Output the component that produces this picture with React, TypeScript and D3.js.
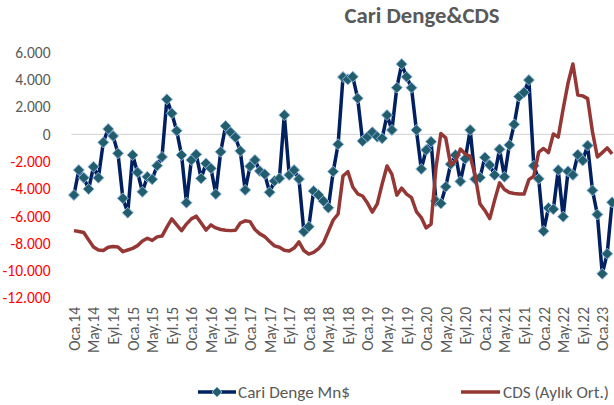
import React from "react";
import * as d3 from "d3";

const cariDenge: number[] = [
  -4.45, -2.62, -3.18, -4.01, -2.38, -3.18, -0.59, 0.39, -0.12, -1.39, -4.69, -5.75,
  -1.52, -2.79, -4.21, -3.11, -3.3, -2.3, -1.66, 2.57, 1.54, 0.26, -1.52, -5.01,
  -1.88, -1.47, -3.23, -2.13, -2.49, -4.38, -1.28, 0.61, 0.15, -0.22, -1.22, -4.08,
  -2.34, -1.88, -2.69, -2.93, -4.25, -3.42, -3.23, 1.41, -2.98, -2.62, -3.28, -7.14,
  -6.77, -4.16, -4.45, -4.89, -5.38, -2.73, -0.73, 4.2, 4.03, 4.22, 2.64, -0.49,
  -0.18, 0.15, -0.18, -0.29, 1.41, 0.32, 3.42, 5.15, 4.22, 3.42, 0.32, -2.54,
  -1.15, -0.54, -4.89, -5.07, -3.84, -2.19, -1.52, -3.45, -1.79, 0.32, -3.28, -3.17,
  -1.69, -2.25, -2.98, -1.1, -3.11, -0.78, 0.73, 2.77, 3.08, 3.98, -2.31, -3.26,
  -7.1, -5.4, -5.49, -2.62, -6.04, -2.71, -2.98, -1.5, -1.92, -0.82, -4.11, -5.88,
  -10.23, -8.76, -4.98,
].map((v) => v * 1000);

const cds: number[] = [
  247, 244, 240, 213, 187, 176, 174, 186, 189, 187, 170, 176,
  182, 192, 209, 219, 211, 224, 227, 260, 290, 268, 247, 271,
  290, 300, 275, 249, 268, 257, 251, 248, 247, 248, 275, 283,
  280, 251, 235, 225, 207, 191, 186, 175, 172, 183, 206, 174,
  161, 167, 181, 202, 244, 286, 308, 447, 463, 407, 382, 374,
  348, 315, 345, 418, 484, 453, 377, 403, 381, 368, 317, 295,
  257, 271, 477, 603, 587, 488, 502, 546, 528, 519, 451, 345,
  321, 291, 359, 422, 398, 387, 383, 381, 381, 434, 447, 535,
  548, 533, 601, 590, 693, 788, 858, 744, 741, 731, 609, 517,
  533, 550, 528,
];

const monthNames = ["Oca", "Şub", "Mar", "Nis", "May", "Haz", "Tem", "Ağu", "Eyl", "Eki", "Kas", "Ara"];
const categories: string[] = cariDenge.map((_, i) => `${monthNames[i % 12]}.${14 + Math.floor(i / 12)}`);

const tickLabels: string[] = [
  "Oca.14", "May.14", "Eyl.14", "Oca.15", "May.15", "Eyl.15", "Oca.16", "May.16", "Eyl.16",
  "Oca.17", "May.17", "Eyl.17", "Oca.18", "May.18", "Eyl.18", "Oca.19", "May.19", "Eyl.19",
  "Oca.20", "May.20", "Eyl.20", "Oca.21", "May.21", "Eyl.21", "Oca.22", "May.22", "Eyl.22",
  "Oca.23",
];

const yTicks: number[] = [6000, 4000, 2000, 0, -2000, -4000, -6000, -8000, -10000, -12000];

const W = 614;
const H = 405;
const FONT = "Carlito, Calibri, Lato, sans-serif";

export default function App() {
  const x = d3.scaleBand<string>().domain(categories).range([71.5, 614.5]).padding(0);
  const cx = (i: number) => (x(categories[i]) as number) + x.bandwidth() / 2;
  const y = d3.scaleLinear().domain([-12000, 6000]).range([298, 52.5]);
  const y2 = d3.scaleLinear().domain([0, 900]).range([298, 52.5]);

  const fmt = d3.formatLocale({ decimal: ",", thousands: ".", grouping: [3], currency: ["", ""], minus: "-" }).format(",.0f");

  const lineBlue = d3.line<number>().x((_, i) => cx(i)).y((d) => y(d))(cariDenge) || "";
  const lineRed = d3.line<number>().x((_, i) => cx(i)).y((d) => y2(d))(cds) || "";

  const diamond = (r: number) => `M0,${-r}L${r},0L0,${r}L${-r},0Z`;

  return (
    <svg width={W} height={H} style={{ position: "fixed", left: 0, top: 0, background: "#fff" }} fontFamily={FONT}>
      <rect width={W} height={H} fill="#fff" />
      <text x={422} y={23} textAnchor="middle" fontSize={21.5} fontWeight="bold" fill="#595959" textLength={155} lengthAdjust="spacingAndGlyphs">
        Cari Denge&amp;CDS
      </text>
      {yTicks.map((t) => (
        <text key={t} x={50.5} y={y(t)} dy="0.35em" textAnchor="end" fontSize={15.5} fill={t < 0 ? "#FF0000" : "#595959"}>
          {fmt(t)}
        </text>
      ))}
      <line x1={71.5} x2={614.5} y1={y(0)} y2={y(0)} stroke="#D9D9D9" strokeWidth={1.2} />
      {tickLabels.map((lab) => {
        const i = categories.indexOf(lab);
        const px = cx(i);
        return (
          <text key={lab} transform={`translate(${px + 0.5},307) rotate(-90)`} dy="0.35em" textAnchor="end" fontSize={15.5} fill="#595959">
            {lab}
          </text>
        );
      })}
      <path d={lineBlue} fill="none" stroke="#002060" strokeWidth={3.5} strokeLinejoin="round" />
      {cariDenge.map((v, i) => (
        <path key={i} d={diamond(5.5)} transform={`translate(${cx(i)},${y(v)})`} fill="#215D6B" stroke="#8EB4E3" strokeWidth={1} />
      ))}
      <path d={lineRed} fill="none" stroke="#953735" strokeWidth={3.5} strokeLinejoin="round" />
      <g>
        <line x1={198} x2={236} y1={392} y2={392} stroke="#002060" strokeWidth={3.5} />
        <path d={diamond(5)} transform="translate(217,392)" fill="#215D6B" stroke="#8EB4E3" strokeWidth={1} />
        <text x={238} y={392} dy="0.35em" fontSize={16} fill="#595959" textLength={112} lengthAdjust="spacingAndGlyphs">Cari Denge Mn$</text>
        <line x1={461} x2={500} y1={392} y2={392} stroke="#953735" strokeWidth={3.5} />
        <text x={503} y={392} dy="0.35em" fontSize={16} fill="#595959" textLength={106} lengthAdjust="spacingAndGlyphs">CDS (Aylık Ort.)</text>
      </g>
    </svg>
  );
}
